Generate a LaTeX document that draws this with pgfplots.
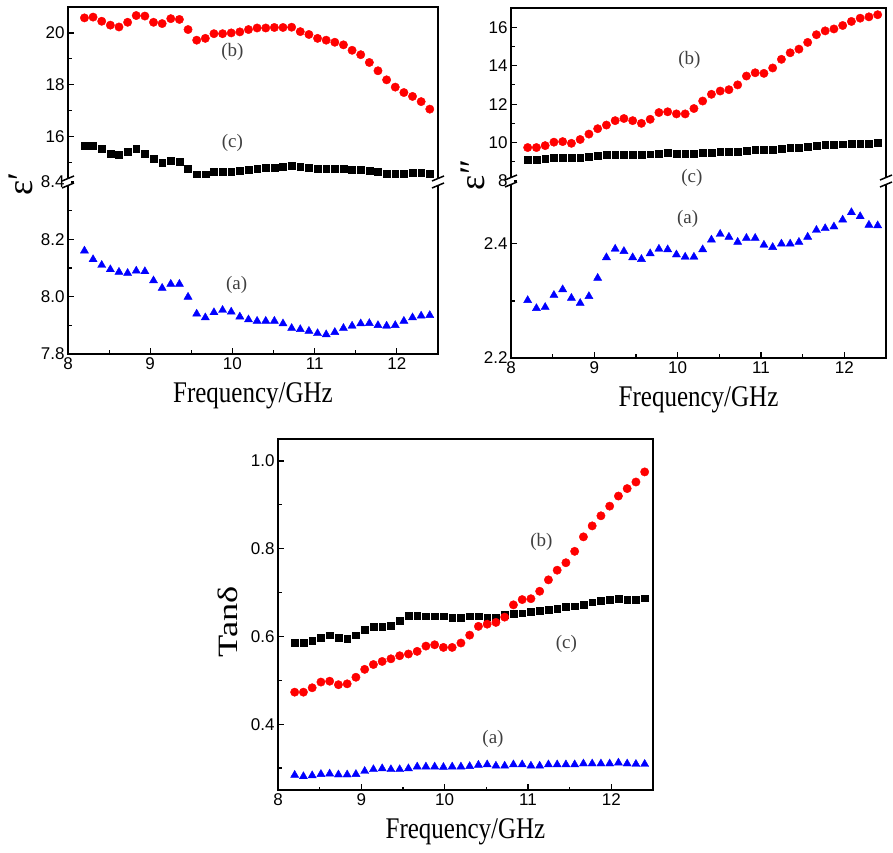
\documentclass[border=0pt]{standalone}
\usepackage{pgfplots}
\pgfplotsset{compat=1.18}
\usepackage{pgfplotstable}
\usepackage{fontspec}
\setmainfont{Liberation Serif}
\setsansfont{Liberation Sans}

% f = frequency (GHz); a, b, c = samples
\pgfplotstableread{
f      a      b      c
8.200  8.160  20.58  15.65
8.305  8.130  20.61  15.65
8.410  8.110  20.45  15.52
8.515  8.095  20.30  15.35
8.620  8.086  20.23  15.29
8.725  8.082  20.41  15.41
8.830  8.090  20.67  15.52
8.935  8.088  20.65  15.35
9.040  8.056  20.41  15.15
9.145  8.030  20.36  14.99
9.250  8.044  20.55  15.06
9.355  8.044  20.52  15.02
9.460  7.999  20.13  14.76
9.565  7.940  19.72  14.55
9.670  7.927  19.79  14.55
9.775  7.945  19.97  14.66
9.880  7.953  19.97  14.66
9.985  7.947  20.00  14.66
10.090 7.930  20.04  14.68
10.195 7.920  20.13  14.72
10.300 7.915  20.19  14.76
10.405 7.915  20.19  14.80
10.510 7.915  20.21  14.81
10.615 7.906  20.21  14.84
10.720 7.890  20.22  14.88
10.825 7.886  20.05  14.84
10.930 7.880  19.94  14.80
11.035 7.872  19.79  14.76
11.140 7.868  19.72  14.76
11.245 7.876  19.64  14.76
11.350 7.890  19.54  14.77
11.455 7.898  19.33  14.71
11.560 7.906  19.16  14.71
11.665 7.907  18.86  14.68
11.770 7.900  18.54  14.65
11.875 7.898  18.19  14.57
11.980 7.900  17.91  14.57
12.085 7.915  17.70  14.57
12.190 7.927  17.55  14.62
12.295 7.933  17.35  14.62
12.400 7.935  17.06  14.58
}\epsreal

\pgfplotstableread{
f      a      b      c
8.200  2.301  9.74   9.12
8.305  2.287  9.74   9.09
8.410  2.289  9.84   9.18
8.515  2.310  10.02  9.21
8.620  2.320  10.05  9.21
8.725  2.305  9.96   9.21
8.830  2.296  10.16  9.21
8.935  2.308  10.44  9.28
9.040  2.340  10.72  9.32
9.145  2.376  10.91  9.35
9.250  2.391  11.14  9.35
9.355  2.387  11.25  9.35
9.460  2.376  11.14  9.35
9.565  2.373  11.00  9.35
9.670  2.383  11.21  9.39
9.775  2.391  11.56  9.42
9.880  2.390  11.60  9.46
9.985  2.381  11.49  9.42
10.090 2.377  11.49  9.42
10.195 2.377  11.77  9.42
10.300 2.390  12.16  9.46
10.405 2.407  12.51  9.49
10.510 2.417  12.68  9.51
10.615 2.412  12.75  9.53
10.720 2.403  13.00  9.53
10.825 2.410  13.46  9.56
10.930 2.410  13.63  9.61
11.035 2.398  13.60  9.61
11.140 2.394  13.88  9.63
11.245 2.400  14.33  9.67
11.350 2.400  14.67  9.72
11.455 2.403  14.86  9.74
11.560 2.412  15.21  9.79
11.665 2.424  15.61  9.84
11.770 2.427  15.81  9.88
11.875 2.430  15.91  9.88
11.980 2.442  16.09  9.91
12.085 2.455  16.30  9.95
12.190 2.448  16.47  9.96
12.295 2.433  16.54  9.96
12.400 2.432  16.65  10.00
}\epsimag

\pgfplotstableread{
f      a      b      c
8.200  0.284  0.473  0.585
8.305  0.281  0.473  0.585
8.410  0.283  0.483  0.590
8.515  0.286  0.496  0.598
8.620  0.287  0.498  0.603
8.725  0.285  0.490  0.598
8.830  0.285  0.492  0.594
8.935  0.286  0.507  0.603
9.040  0.293  0.525  0.615
9.145  0.297  0.536  0.623
9.250  0.299  0.543  0.623
9.355  0.297  0.549  0.625
9.460  0.297  0.556  0.636
9.565  0.299  0.560  0.648
9.670  0.303  0.566  0.648
9.775  0.303  0.578  0.646
9.880  0.303  0.581  0.646
9.985  0.302  0.575  0.646
10.090 0.303  0.575  0.643
10.195 0.303  0.585  0.643
10.300 0.304  0.603  0.646
10.405 0.307  0.623  0.646
10.510 0.308  0.628  0.644
10.615 0.305  0.632  0.643
10.720 0.305  0.644  0.649
10.825 0.308  0.672  0.652
10.930 0.308  0.684  0.653
11.035 0.305  0.686  0.656
11.140 0.305  0.703  0.658
11.245 0.308  0.729  0.661
11.350 0.308  0.751  0.663
11.455 0.308  0.768  0.667
11.560 0.308  0.794  0.669
11.665 0.310  0.827  0.673
11.770 0.310  0.852  0.678
11.875 0.310  0.875  0.682
11.980 0.310  0.897  0.684
12.085 0.312  0.920  0.686
12.190 0.310  0.937  0.684
12.295 0.309  0.952  0.684
12.400 0.309  0.975  0.687
}\tand

\pgfplotsset{
  panel/.style={
    scale only axis, anchor=south west, xmin=8, xmax=12.5, clip=false,
    axis line style={draw=none},
    tick align=inside, major tick length=6pt, minor tick length=3.5pt,
    tick style={black, line width=1.2pt},
    xtick pos=bottom, ytick pos=left,
    tick label style={font=\sffamily\fontsize{17}{17}\selectfont},
    /pgf/number format/assume math mode=true,
    xtick={8,9,10,11,12}, minor xtick={8.5,9.5,10.5,11.5},
  },
  upper/.style={panel, xtick=\empty, minor xtick={}},
  onedec/.style={yticklabel style={/pgf/number format/.cd, fixed, fixed zerofill, precision=1}},
  pa/.style={only marks, mark=triangle*, mark size=4.7pt, color=blue},
  pb/.style={only marks, mark=*, mark size=4.2pt, color=red},
  pc/.style={only marks, mark=square*, mark size=3.4pt, color=black},
}
\tikzset{lab/.style={font=\fontsize{19}{19}\selectfont, text=black!75}}
\newcommand{\frameup}{\draw[line width=1.8pt] (rel axis cs:0,0) -- (rel axis cs:0,1) -- (rel axis cs:1,1) -- (rel axis cs:1,0);}
\newcommand{\framelo}{\draw[line width=1.8pt] (rel axis cs:0,1) -- (rel axis cs:0,0) -- (rel axis cs:1,0) -- (rel axis cs:1,1);}
\newcommand{\framefull}{\draw[line width=1.8pt] (rel axis cs:0,0) rectangle (rel axis cs:1,1);}
% break mark "//" on an axis line
\newcommand{\brk}[1]{%
  \fill[white] ([shift={(-2.5pt,-3.5pt)}]#1) rectangle ([shift={(2.5pt,3.5pt)}]#1);
  \draw[line width=1.5pt] ([shift={(-6pt,1pt)}]#1) -- ([shift={(6pt,6pt)}]#1);
  \draw[line width=1.5pt] ([shift={(-6pt,-6pt)}]#1) -- ([shift={(6pt,-1pt)}]#1);}
\newcommand{\xlab}{\node at ([yshift=-42pt]rel axis cs:0.5,0) {\fontsize{25}{25}\selectfont\scalebox{1}[1.2]{Frequency/GHz}};}

\begin{document}
\begin{tikzpicture}
\useasboundingbox (0,0) rectangle (893pt,852pt);

% ---- top left: eps'
\begin{axis}[panel, onedec, at={(68pt,498pt)}, width=370pt, height=172pt,
    ymin=7.8, ymax=8.4, ytick={7.8,8.0,8.2,8.4}, minor ytick={7.9,8.1,8.3}]
\addplot[pa] table[x=f, y=a] {\epsreal};
\framelo
\node[lab] at (axis cs:10.05,8.04) {(a)};
\xlab
\node[rotate=90, font=\fontsize{36}{36}\selectfont] at ([xshift=-47pt,yshift=-2pt]rel axis cs:0,1) {ε′};
\end{axis}
\begin{axis}[upper, at={(68pt,670pt)}, width=370pt, height=175pt,
    ymin=14.25, ymax=21, ytick={16,18,20}, minor ytick={15,17,19}]
\addplot[pb] table[x=f, y=b] {\epsreal};
\addplot[pc] table[x=f, y=c] {\epsreal};
\frameup
\node[lab] at (axis cs:10.0,19.28) {(b)};
\node[lab] at (axis cs:10.0,15.76) {(c)};
\brk{rel axis cs:0,0}
\brk{rel axis cs:1,0}
\end{axis}

% ---- top right: eps''
\begin{axis}[panel, onedec, at={(511pt,494pt)}, width=375pt, height=177pt,
    ymin=2.2, ymax=2.51, ytick={2.2,2.4}, minor ytick={2.3}]
\addplot[pa] table[x=f, y=a] {\epsimag};
\framelo
\node[lab] at (axis cs:10.12,2.444) {(a)};
\xlab
\node[rotate=90, font=\fontsize{36}{36}\selectfont] at ([xshift=-38pt,yshift=6pt]rel axis cs:0,1) {ε″};
\end{axis}
\begin{axis}[upper, at={(511pt,671pt)}, width=375pt, height=173pt,
    ymin=8, ymax=17, ytick={8,10,12,14,16}, minor ytick={9,11,13,15}]
\addplot[pb] table[x=f, y=b] {\epsimag};
\addplot[pc] table[x=f, y=c] {\epsimag};
\frameup
\node[lab] at (axis cs:10.14,14.3) {(b)};
\node[lab] at (axis cs:10.17,8.14) {(c)};
\brk{rel axis cs:0,0}
\brk{rel axis cs:1,0}
\end{axis}

% ---- bottom: tan delta
\begin{axis}[panel, onedec, at={(278pt,62pt)}, width=375pt, height=351pt,
    ymin=0.25, ymax=1.05, ytick={0.4,0.6,0.8,1.0}, minor ytick={0.3,0.5,0.7,0.9}]
\addplot[pc] table[x=f, y=c] {\tand};
\addplot[pb] table[x=f, y=b] {\tand};
\addplot[pa] table[x=f, y=a] {\tand};
\framefull
\node[lab] at (axis cs:11.16,0.815) {(b)};
\node[lab] at (axis cs:11.46,0.582) {(c)};
\node[lab] at (axis cs:10.58,0.366) {(a)};
\xlab
\node[rotate=90, font=\fontsize{28}{28}\selectfont] at ([xshift=-50pt]rel axis cs:0,0.48) {\scalebox{1.3}[1]{Tanδ}};
\end{axis}
\end{tikzpicture}
\end{document}
